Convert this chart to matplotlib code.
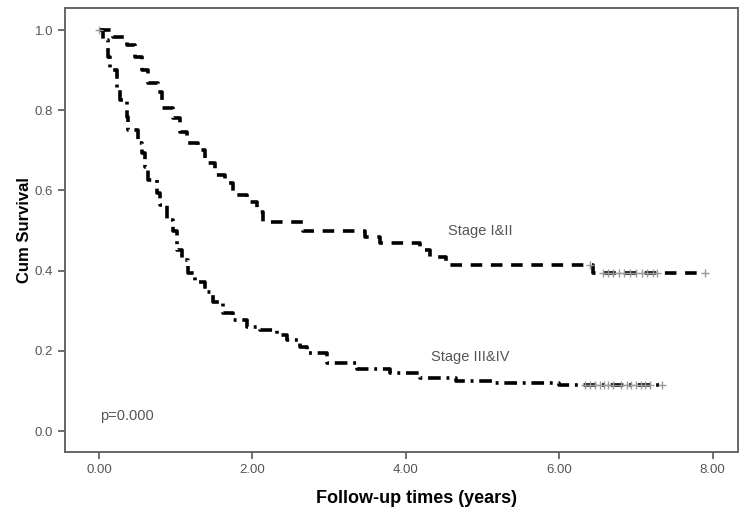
import numpy as np
import matplotlib.pyplot as plt

plt.rcParams['font.family'] = ['Liberation Sans', 'DejaVu Sans']

# ---- Kaplan-Meier step data ----
early_t = [0.0, 0.18, 0.36, 0.47, 0.56, 0.64, 0.77, 0.82, 0.96, 1.06, 1.15, 1.29, 1.38,
           1.51, 1.64, 1.75, 1.93, 2.06, 2.14, 2.66, 3.47, 3.66, 4.18, 4.31, 4.53, 4.70, 6.44, 7.90]
early_s = [1.0, 0.983, 0.963, 0.933, 0.90, 0.868, 0.845, 0.805, 0.78, 0.746, 0.718, 0.70, 0.668,
           0.638, 0.618, 0.588, 0.571, 0.546, 0.52, 0.50, 0.484, 0.469, 0.451, 0.434, 0.414, 0.414, 0.394, 0.394]
early_cens = [6.40, 6.57, 6.63, 6.70, 6.78, 6.85, 6.92, 7.0, 7.08, 7.15, 7.22, 7.27, 7.90]

late_t = [0.0, 0.05, 0.12, 0.14, 0.23, 0.27, 0.36, 0.38, 0.51, 0.56, 0.60, 0.64, 0.76, 0.79,
          0.89, 0.96, 1.02, 1.08, 1.16, 1.25, 1.38, 1.49, 1.62, 1.75, 1.93, 2.10, 2.32, 2.45,
          2.62, 2.71, 2.97, 3.36, 3.79, 4.18, 4.66, 5.13, 6.0, 7.34]
late_s = [1.0, 0.975, 0.933, 0.90, 0.85, 0.825, 0.783, 0.75, 0.718, 0.693, 0.658, 0.626, 0.593, 0.564,
          0.526, 0.50, 0.451, 0.426, 0.394, 0.372, 0.347, 0.322, 0.294, 0.277, 0.259, 0.252, 0.239, 0.227,
          0.21, 0.195, 0.17, 0.155, 0.145, 0.132, 0.125, 0.12, 0.115, 0.115]
late_cens = [6.33, 6.40, 6.47, 6.53, 6.58, 6.63, 6.70, 6.80, 6.88, 6.94, 7.0, 7.06, 7.12, 7.18, 7.34]

xticks = [0, 2, 4, 6, 8]
yticks = [0.0, 0.2, 0.4, 0.6, 0.8, 1.0]

fig = plt.figure(figsize=(7.4, 5.16), dpi=100)
ax = fig.add_axes([0.0878, 0.124, 0.909, 0.8605])

ax.plot(early_t, early_s, drawstyle='steps-post', color='black', lw=2.6,
        dashes=(3.2, 2.4))
ax.plot(late_t, late_s, drawstyle='steps-post', color='black', lw=2.6,
        dashes=(3.5, 1.6, 0.8, 1.6))

def surv_at(ts, ss, t):
    idx = np.searchsorted(ts, t, side='right') - 1
    return ss[idx]

ax.plot(early_cens, [surv_at(early_t, early_s, t) for t in early_cens], '+',
        color='#999999', ms=6, mew=1.0)
ax.plot(late_cens, [surv_at(late_t, late_s, t) for t in late_cens], '+',
        color='#999999', ms=6, mew=1.0)
ax.plot([0.0], [1.0], '+', color='#999999', ms=6, mew=1.0)

ax.text(4.55, 0.50, 'Stage I&II', fontsize=10.5, color='#555555', va='center')
ax.text(4.33, 0.185, 'Stage III&IV', fontsize=10.5, color='#555555', va='center')
ax.text(0.01, 0.037, 'p=0.000', fontsize=10.5, color='#555555', va='center')

ax.set_xlim(-0.443, 8.326)
ax.set_ylim(-0.0524, 1.0549)
ax.set_xticks(xticks)
ax.set_xticklabels(['%.2f' % v for v in xticks])
ax.set_yticks(yticks)
ax.set_yticklabels(['%.1f' % v for v in yticks])
ax.tick_params(direction='out', length=5, width=1.2, color='#555555',
               labelcolor='#555555', labelsize=9.5)

for sp in ax.spines.values():
    sp.set_color('#666666')
    sp.set_linewidth(1.4)

ax.set_xlabel('Follow-up times (years)', fontsize=13, fontweight='bold')
ax.xaxis.set_label_coords(0.522, -0.085)
ax.set_ylabel('Cum Survival', fontsize=12, fontweight='bold', labelpad=2)

fig.savefig('out.png', dpi=100)
